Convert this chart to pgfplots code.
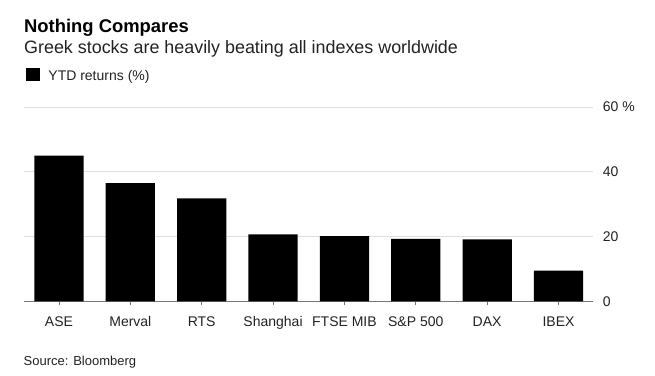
\documentclass[border=0pt]{standalone}
\usepackage{fontspec}
\setmainfont{Liberation Sans}
\usepackage{pgfplots}
\usepackage{pgfplotstable}
\pgfplotsset{compat=1.18}
\definecolor{gridc}{HTML}{DDDDDD}
\definecolor{axisgray}{HTML}{777777}
\definecolor{txt}{HTML}{222222}

\pgfplotstableread{
x y
0 45.0
1 36.5
2 31.8
3 20.7
4 20.1
5 19.3
6 19.1
7 9.5
}\ytddata

\begin{document}
\begin{tikzpicture}
\useasboundingbox (0pt,0pt) rectangle (655pt,375pt);
\node[anchor=base west, inner sep=0pt, font=\fontsize{18.4}{22}\selectfont\bfseries] at (24pt,342.3pt) {Nothing Compares};
\node[anchor=base west, inner sep=0pt, font=\fontsize{17.9}{21}\selectfont, text=txt] at (24pt,321.6pt) {Greek stocks are heavily beating all indexes worldwide};
\node[anchor=base west, inner sep=0pt, font=\fontsize{13}{16}\selectfont, text=txt] at (23.5pt,10pt) {Source: Bloomberg};
\begin{axis}[
  at={(59pt,73.7pt)}, anchor=origin,
  scale only axis, width=568.7pt, height=194.3pt,
  xmin=-0.49, xmax=7.48, ymin=0, ymax=60,
  ybar, bar width=0.69, bar shift=0pt,
  axis x line*=bottom, axis y line*=right,
  x axis line style={axisgray, line width=0.8pt},
  y axis line style={draw=none},
  ytick={0,20,40,60}, yticklabels={0,20,40,60 \%},
  ymajorgrids, major grid style={gridc, line width=0.8pt},
  xtick={0,...,7},
  xticklabels={ASE,Merval,RTS,Shanghai,FTSE MIB,S\&P 500,DAX,IBEX},
  tick align=outside, major tick length=4pt,
  x tick style={axisgray, line width=0.8pt},
  y tick style={draw=none},
  ticklabel style={font=\fontsize{14}{16}\selectfont, text=txt},
  xticklabel style={anchor=base, inner sep=0pt, yshift=-20.7pt},
  yticklabel style={anchor=west, inner sep=0pt, xshift=6pt},
  legend style={at={(axis description cs:0.0035,1.199)}, anchor=north west,
    draw=none, fill=none, inner sep=0pt, outer sep=0pt,
    nodes={inner sep=0pt, font=\fontsize{14}{16}\selectfont, text=txt, anchor=base west},
    /tikz/every odd column/.style={column sep=8.4pt}},
  legend image code/.code={\fill[black] (0pt,-1pt) rectangle (14pt,11.7pt);},
]
\addplot[fill=black, draw=none] table[x=x, y=y] {\ytddata};
\addlegendentry{YTD returns (\%)}
\end{axis}
\end{tikzpicture}
\end{document}
